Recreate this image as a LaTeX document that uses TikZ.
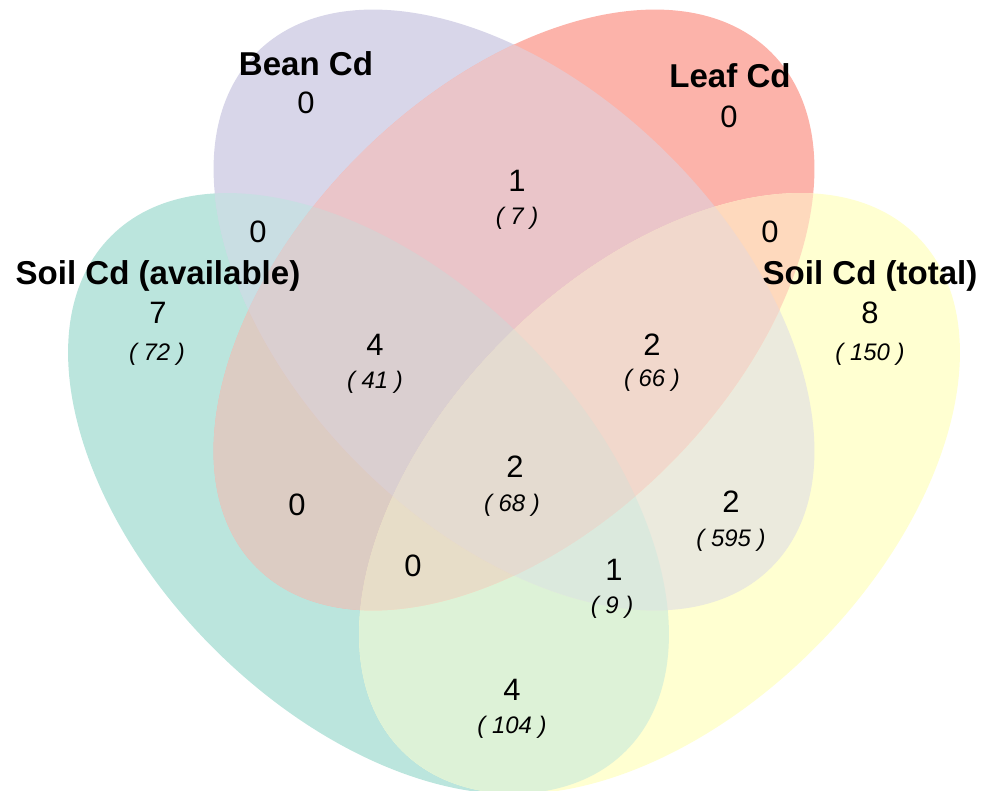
\documentclass[tikz,border=0pt]{standalone}
\usepackage{fontspec}
\setmainfont{Liberation Sans}
% set colours as they appear on their own
\definecolor{paleAvail}{RGB}{187,229,221}
\definecolor{paleBean}{RGB}{216,214,233}
\definecolor{paleLeaf}{RGB}{252,179,170}
\definecolor{paleTotal}{RGB}{255,255,209}
% overlaps take the mean of the colours of the sets involved
\colorlet{mixAB}{paleAvail!50!paleBean}
\colorlet{mixAL}{paleAvail!50!paleLeaf}
\colorlet{mixAT}{paleAvail!50!paleTotal}
\colorlet{mixBL}{paleBean!50!paleLeaf}
\colorlet{mixBT}{paleBean!50!paleTotal}
\colorlet{mixLT}{paleLeaf!50!paleTotal}
\colorlet{mixABL}{paleAvail!50!paleBean!66.667!paleLeaf}
\colorlet{mixABT}{paleAvail!50!paleBean!66.667!paleTotal}
\colorlet{mixALT}{paleAvail!50!paleLeaf!66.667!paleTotal}
\colorlet{mixBLT}{paleBean!50!paleLeaf!66.667!paleTotal}
\colorlet{mixABLT}{paleAvail!50!paleBean!66.667!paleLeaf!75!paleTotal}
% the four set outlines, used both for filling and for clipping
\newcommand\vennAvail[1]{\path[#1, rotate around={-45:(368.5,296.5)}] (368.5,296.5) ellipse [x radius=364, y radius=219];}
\newcommand\vennBean[1]{\path[#1, rotate around={-45:(514,480)}] (514,480) ellipse [x radius=364, y radius=219];}
\newcommand\vennLeaf[1]{\path[#1, rotate around={45:(514,480)}] (514,480) ellipse [x radius=364, y radius=219];}
\newcommand\vennTotal[1]{\path[#1, rotate around={45:(659.5,296.5)}] (659.5,296.5) ellipse [x radius=364, y radius=219];}
\begin{document}
\begin{tikzpicture}[x=0.025cm, y=0.025cm,
  setlabel/.style={inner sep=0pt, font=\bfseries\fontsize{23.5}{28}\selectfont},
  regnum/.style={inner sep=0pt, font=\fontsize{22}{26}\selectfont},
  regcount/.style={inner sep=0pt, font=\itshape\fontsize{17}{20}\selectfont}]
\useasboundingbox (0,0) rectangle (990,790);
% single sets
\vennAvail{fill=paleAvail}
\vennBean{fill=paleBean}
\vennLeaf{fill=paleLeaf}
\vennTotal{fill=paleTotal}
% pairwise overlaps
\begin{scope}\vennAvail{clip}\vennBean{fill=mixAB}\end{scope}
\begin{scope}\vennAvail{clip}\vennLeaf{fill=mixAL}\end{scope}
\begin{scope}\vennAvail{clip}\vennTotal{fill=mixAT}\end{scope}
\begin{scope}\vennBean{clip}\vennLeaf{fill=mixBL}\end{scope}
\begin{scope}\vennBean{clip}\vennTotal{fill=mixBT}\end{scope}
\begin{scope}\vennLeaf{clip}\vennTotal{fill=mixLT}\end{scope}
% triple overlaps
\begin{scope}\vennAvail{clip}\vennBean{clip}\vennLeaf{fill=mixABL}\end{scope}
\begin{scope}\vennAvail{clip}\vennBean{clip}\vennTotal{fill=mixABT}\end{scope}
\begin{scope}\vennAvail{clip}\vennLeaf{clip}\vennTotal{fill=mixALT}\end{scope}
\begin{scope}\vennBean{clip}\vennLeaf{clip}\vennTotal{fill=mixBLT}\end{scope}
% all four
\begin{scope}\vennAvail{clip}\vennBean{clip}\vennLeaf{clip}\vennTotal{fill=mixABLT}\end{scope}
% set names
\node[setlabel] (lbean)  at (306,726) {Bean Cd};
\node[setlabel] (lleaf)  at (730,714) {Leaf Cd};
\node[setlabel] (lavail) at (158,514) {Soil Cd (available)};
\node[setlabel] (ltotal) at (870,514) {Soil Cd (total)};
% single sets
\node[regnum]   (nbean)  at (306,687) {0};
\node[regnum]   (nleaf)  at (729,673) {0};
\node[regnum]   (navail) at (158,477) {7};
\node[regcount] (cavail) at (157,436) {( 72 )};
\node[regnum]   (ntotal) at (870,477) {8};
\node[regcount] (ctotal) at (870,436) {( 150 )};
% pairs
\node[regnum]   (nbl)  at (517,609) {1};
\node[regcount] (cbl)  at (517,572) {( 7 )};
\node[regnum]   (nba)  at (258,558) {0};
\node[regnum]   (nlt)  at (770,558) {0};
\node[regnum]   (nla)  at (297,285) {0};
\node[regnum]   (nbt)  at (731,288) {2};
\node[regcount] (cbt)  at (731,250) {( 595 )};
\node[regnum]   (nat)  at (512,100) {4};
\node[regcount] (cat)  at (512,63)  {( 104 )};
% triples
\node[regnum]   (nbla) at (375,445) {4};
\node[regcount] (cbla) at (375,408) {( 41 )};
\node[regnum]   (nblt) at (652,445) {2};
\node[regcount] (cblt) at (652,410) {( 66 )};
\node[regnum]   (nlat) at (413,224) {0};
\node[regnum]   (nbat) at (614,220) {1};
\node[regcount] (cbat) at (612,183) {( 9 )};
% all four
\node[regnum]   (nall) at (515,323) {2};
\node[regcount] (call) at (512,285) {( 68 )};
\end{tikzpicture}
\end{document}
